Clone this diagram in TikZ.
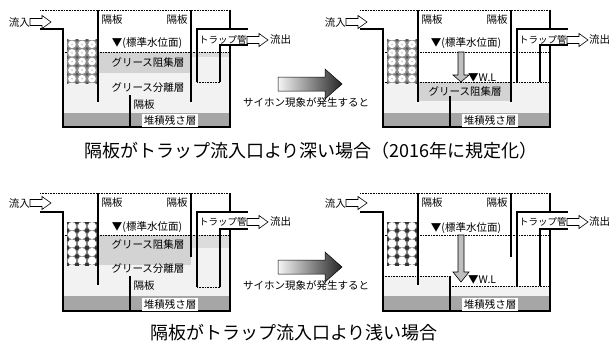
\documentclass[tikz,border=0pt]{standalone}
\usepackage{fontspec}
\setmainfont{Noto Sans CJK JP}
\definecolor{lightfill}{HTML}{F2F2F2}
\definecolor{grease}{HTML}{D3D3D3}
\definecolor{greaselight}{HTML}{DCDCDC}
\definecolor{sediment}{HTML}{A6A6A6}
\definecolor{mediagray}{HTML}{8E8E8E}
\tikzset{
  flowarrow/.pic={
    \path[fill=white, draw=black, line width=0.6pt]
      (0,-3.5) -- (12,-3.5) -- (12,-6.5) -- (21,0) -- (12,6.5) -- (12,3.5) -- (0,3.5) -- cycle;
  },
  mediaA/.pic={
    \fill[mediagray] (0,0) rectangle (30,43);
    \begin{scope}
      \clip (0,0) rectangle (30,43);
      \foreach \i in {0,...,4} \foreach \j in {0,...,2}
        {\fill[white] (5+10*\j, 4.3+8.6*\i) circle[radius=3.8];
         \fill[black!20] (5+10*\j, 4.3+8.6*\i) circle[radius=1.0];}
      \foreach \i in {0,...,5} \foreach \j in {0,...,3}
        {\fill[black!65] (10*\j, 8.6*\i) circle[radius=1.8];}
    \end{scope}
  },
  mediaB/.pic={
    \fill[black!50] (0,0) rectangle (30,43);
    \begin{scope}
      \clip (0,0) rectangle (30,43);
      \foreach \i in {0,...,4} \foreach \j in {0,...,2}
        {\fill[white] (5+10*\j, 4.3+8.6*\i) circle[radius=4.2];}
      \foreach \i in {0,...,5} \foreach \j in {0,...,3}
        {\fill[black!80] (10*\j, 8.6*\i) circle[radius=2.2];}
    \end{scope}
  }
}
\begin{document}
\begin{tikzpicture}[x=1pt,y=-1pt,
  wall/.style={line width=1.8pt},
  baffle/.style={line width=1.5pt},
  dotline/.style={line width=0.8pt, dash pattern=on 0.8pt off 0.8pt},
  lbl/.style={inner sep=0pt, font=\fontsize{10.5}{12}\selectfont},
  traplbl/.style={inner sep=0pt, font=\fontsize{9.5}{11}\selectfont},
  sedlbl/.style={lbl, fill=white, inner xsep=2pt, minimum height=13pt},
  caption/.style={inner sep=0pt, font=\fontsize{18}{21}\selectfont},
  siphon/.style={left color=black!4, right color=black!85, draw=black, line width=0.5pt},
  downarrow/.style={fill=black!25, draw=black, line width=0.6pt},
]
\useasboundingbox (0,0) rectangle (610,345);

% ---------- upper left: normal operation, deep baffle ----------
\fill[lightfill] (63,52) rectangle (230,113);
\fill[grease] (98,52) rectangle (191,73);
\fill[greaselight] (191,52) rectangle (230,57);
\fill[sediment] (63,113) rectangle (230,127);
\draw[dotline] (40,10) -- (230,10);
\draw[dotline] (63,52) -- (230,52);
\pic at (67,40) {mediaA};
\draw[wall] (40,29) -- (63,29) -- (63,127) -- (230,127) -- (230,45);
\draw[wall] (230,10) -- (230,29);
\draw[wall] (248,29) -- (197,29) -- (197,82);
\draw[wall] (248,45) -- (220,45) -- (220,82);
\draw[dotline] (197,82) -- (220,82);
\draw[baffle] (98,10) -- (98,102);
\draw[baffle] (191,10) -- (191,102);
\draw[baffle] (130,95) -- (130,127);
\node[lbl, anchor=east] (inA) at (30,22) {流入};
\pic at (30,22) {flowarrow};
\node[lbl] (bA1) at (112,20) {隔板};
\node[lbl] (bA2) at (177,20) {隔板};
\node[lbl] (wlA) at (147,43) {▼(標準水位面)};
\node[lbl] (gA) at (148,62) {グリース阻集層};
\node[lbl] (sA) at (148,88) {グリース分離層};
\node[lbl] (bA3) at (144,105) {隔板};
\node[sedlbl] (dA) at (170,120) {堆積残さ層};
\node[traplbl, anchor=west] (tA) at (199,40) {トラップ管};
\pic at (247,40) {flowarrow};
\node[lbl, anchor=west] (oA) at (270,40) {流出};

% ---------- siphon arrows ----------
\shadedraw[siphon] (278,77) -- (325,77) -- (325,69) -- (342,84) -- (325,99) -- (325,91) -- (278,91) -- cycle;
\node[lbl] (sy1) at (306,103) {サイホン現象が発生すると};
\shadedraw[siphon] (278,260) -- (325,260) -- (325,252) -- (342,267) -- (325,282) -- (325,274) -- (278,274) -- cycle;
\node[lbl] (sy2) at (306,286) {サイホン現象が発生すると};

% ---------- upper right: after siphoning, deep baffle ----------
\fill[lightfill] (383,82) rectangle (550,113);
\fill[grease] (418,82) rectangle (511,101);
\fill[sediment] (383,113) rectangle (550,127);
\draw[dotline] (360,10) -- (550,10);
\draw[dotline] (383,52) -- (550,52);
\draw[dotline] (383,82) -- (550,82);
\pic at (387,40) {mediaA};
\draw[wall] (360,29) -- (383,29) -- (383,127) -- (550,127) -- (550,45);
\draw[wall] (550,10) -- (550,29);
\draw[wall] (568,29) -- (517,29) -- (517,82);
\draw[wall] (568,45) -- (540,45) -- (540,82);
\draw[baffle] (418,10) -- (418,102);
\draw[baffle] (511,10) -- (511,102);
\draw[baffle] (450,96) -- (450,127);
\path[downarrow] (458,52) -- (464,52) -- (464,75) -- (469,75) -- (461,82) -- (453,75) -- (458,75) -- cycle;
\node[lbl, anchor=east] (inB) at (346,22) {流入};
\pic at (346,22) {flowarrow};
\node[lbl] (bB1) at (432,20) {隔板};
\node[lbl] (bB2) at (497,20) {隔板};
\node[lbl] (wlB) at (466,43) {▼(標準水位面)};
\node[lbl, anchor=west] (wB) at (468,78) {▼W.L};
\node[lbl] (gB) at (465,91) {グリース阻集層};
\node[sedlbl] (dB) at (490,120) {堆積残さ層};
\node[traplbl, anchor=west] (tB) at (519,40) {トラップ管};
\pic at (567,40) {flowarrow};
\node[lbl, anchor=west] (oB) at (589,40) {流出};

\node[caption] (capA) at (311,151) {隔板がトラップ流入口より深い場合（2016年に規定化）};

% ---------- lower left: normal operation, shallow baffle ----------
\fill[lightfill] (63,235) rectangle (230,296);
\fill[grease] (98,235) rectangle (191,265);
\fill[greaselight] (191,235) rectangle (230,248);
\fill[sediment] (63,296) rectangle (230,311);
\draw[dotline] (40,193) -- (230,193);
\draw[dotline] (63,235) -- (230,235);
\pic at (67,222) {mediaB};
\draw[wall] (40,212) -- (63,212) -- (63,311) -- (230,311) -- (230,229);
\draw[wall] (230,193) -- (230,212);
\draw[wall] (248,212) -- (197,212) -- (197,287);
\draw[wall] (248,229) -- (220,229) -- (220,287);
\draw[dotline] (197,287) -- (220,287);
\draw[baffle] (98,193) -- (98,285);
\draw[baffle] (191,193) -- (191,257);
\draw[baffle] (130,276) -- (130,311);
\node[lbl, anchor=east] (inC) at (30,203) {流入};
\pic at (30,203) {flowarrow};
\node[lbl] (bC1) at (112,203) {隔板};
\node[lbl] (bC2) at (177,203) {隔板};
\node[lbl] (wlC) at (147,227) {▼(標準水位面)};
\node[lbl] (gC) at (148,244) {グリース阻集層};
\node[lbl] (sC) at (148,269) {グリース分離層};
\node[lbl] (bC3) at (144,286) {隔板};
\node[sedlbl] (dC) at (170,304) {堆積残さ層};
\node[traplbl, anchor=west] (tC) at (199,222) {トラップ管};
\pic at (247,222) {flowarrow};
\node[lbl, anchor=west] (oC) at (270,222) {流出};

% ---------- lower right: after siphoning, shallow baffle ----------
\fill[lightfill] (383,276) rectangle (450,296);
\fill[lightfill] (450,286) rectangle (550,296);
\fill[sediment] (383,296) rectangle (550,311);
\draw[dotline] (360,193) -- (550,193);
\draw[dotline] (383,235) -- (550,235);
\draw[dotline] (383,276) -- (450,276);
\draw[dotline] (450,286) -- (550,286);
\pic at (387,222) {mediaB};
\draw[wall] (360,212) -- (383,212) -- (383,311) -- (550,311) -- (550,229);
\draw[wall] (550,193) -- (550,212);
\draw[wall] (568,212) -- (517,212) -- (517,286);
\draw[wall] (568,229) -- (540,229) -- (540,286);
\draw[baffle] (418,193) -- (418,285);
\draw[baffle] (511,193) -- (511,257);
\draw[baffle] (450,276) -- (450,311);
\path[downarrow] (458,235) -- (464,235) -- (464,272) -- (469,272) -- (461,282) -- (453,272) -- (458,272) -- cycle;
\node[lbl, anchor=east] (inD) at (346,203) {流入};
\pic at (346,203) {flowarrow};
\node[lbl] (bD1) at (432,203) {隔板};
\node[lbl] (bD2) at (497,203) {隔板};
\node[lbl] (wlD) at (466,228) {▼(標準水位面)};
\node[lbl, anchor=west] (wD) at (468,280) {▼W.L};
\node[sedlbl] (dD) at (490,304) {堆積残さ層};
\node[traplbl, anchor=west] (tD) at (519,222) {トラップ管};
\pic at (567,222) {flowarrow};
\node[lbl, anchor=west] (oD) at (589,222) {流出};

\node[caption, anchor=west] (capB) at (150,333) {隔板がトラップ流入口より浅い場合};
\end{tikzpicture}
\end{document}
